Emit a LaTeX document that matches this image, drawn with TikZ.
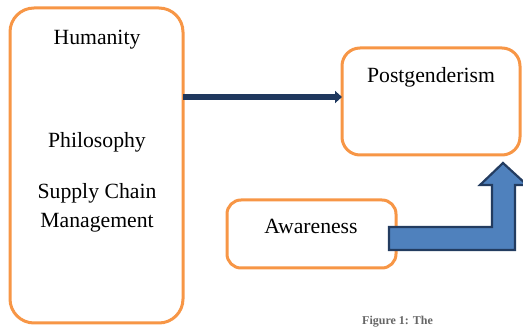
\documentclass[tikz,border=0pt]{standalone}
\usepackage{fontspec}
\setmainfont{Liberation Serif}
\usetikzlibrary{arrows.meta}
\definecolor{boxorange}{RGB}{247,150,70}
\definecolor{navy}{RGB}{31,56,94}
\definecolor{arrowblue}{RGB}{79,129,189}
\definecolor{arrowedge}{RGB}{35,60,96}
\tikzset{
  roundbox/.style={draw=boxorange, line width=3pt, rounded corners=24pt, fill=white},
  lbl/.style={font=\fontsize{21.7}{26}\selectfont, text=black, inner sep=0pt},
}
\begin{document}
\begin{tikzpicture}[x=1pt,y=-1pt]
\useasboundingbox (0,0) rectangle (523,328);
% boxes
\draw[roundbox] (10,8) rectangle (183,323);
\coordinate (leftR) at (183,97);
\draw[roundbox, rounded corners=18pt] (342,48) rectangle (520,155);
\coordinate (postL) at (342,97);
\draw[roundbox, rounded corners=14pt] (227,200) rectangle (396,268);
% texts
\node[lbl] (hum) at (97,40) {Humanity};
\node[lbl] (phil) at (97,142) {Philosophy};
\node[lbl, align=center, font=\fontsize{21.7}{29}\selectfont] (scm) at (97,208) {Supply Chain\\Management};
\node[lbl] (post) at (431,77) {Postgenderism};
\node[lbl] (aware) at (311,226) {Awareness};
% dark connector
\draw[navy, line width=6pt, -{Triangle[length=7pt,width=12pt]}] (leftR) -- (postL);
% bent block arrow
\coordinate (ba) at (389,227);
\draw[fill=arrowblue, draw=arrowedge, line width=2.2pt, line join=miter]
  (389,227) -- (492,227) -- (492,185) -- (480,185) -- (503,163) -- (527,185)
  -- (515,185) -- (515,250) -- (389,250) -- cycle;
% caption (cut off in the source)
\node[anchor=south west, inner sep=0pt, font=\fontsize{12}{14}\selectfont\bfseries, text=black!60] (cap) at (362,327.5) {Figure 1: The};
\end{tikzpicture}
\end{document}
